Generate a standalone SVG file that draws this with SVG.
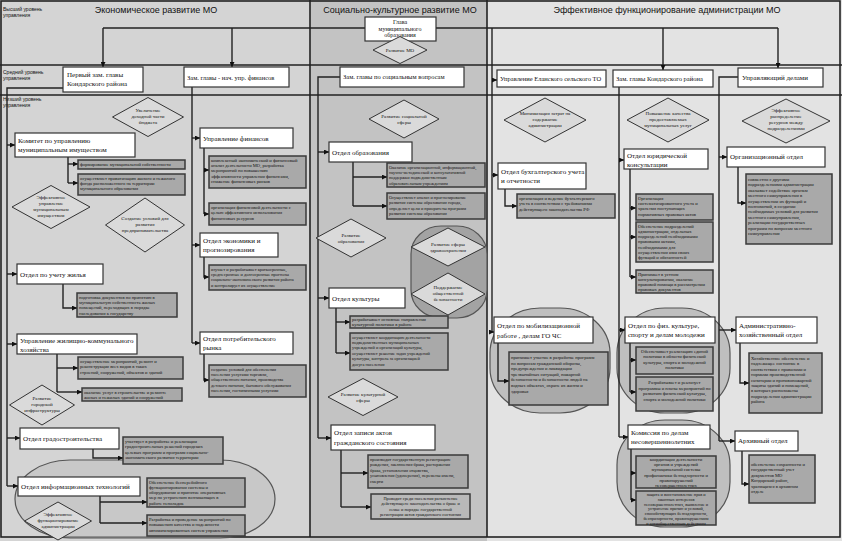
<svg xmlns="http://www.w3.org/2000/svg" width="842" height="541" viewBox="0 0 842 541">
<style>
.w{fill:#fff;stroke:#333;stroke-width:1.2}
.g{fill:#a9a9a9;stroke:#3a3a3a;stroke-width:1.5}
.d{fill:#dadada;stroke:#333;stroke-width:1}
.p{fill:#bfbfbf;stroke:#555;stroke-width:1.2}
.c{fill:none;stroke:#222;stroke-width:1.4}
.a{fill:none;stroke:#222;stroke-width:1.4;marker-end:url(#ar)}
.lv{stroke:#222;stroke-width:1.6}
.tw{font-family:"Liberation Serif",serif;font-size:7px;fill:#111}
.tg{font-family:"Liberation Serif",serif;font-size:4.6px;fill:#111}
.tgc{font-family:"Liberation Serif",serif;font-size:4.6px;fill:#111;text-anchor:middle}
.td{font-family:"Liberation Serif",serif;font-size:5px;fill:#111;text-anchor:middle}
.tt{font-family:"Liberation Sans",sans-serif;font-size:9px;fill:#111;text-anchor:middle}
.tl{font-family:"Liberation Sans",sans-serif;font-size:5px;fill:#111}
</style>
<defs>
<marker id="ar" viewBox="0 0 10 10" refX="10" refY="5" markerWidth="5" markerHeight="5" markerUnits="userSpaceOnUse" orient="auto"><path d="M0,0 L10,5 L0,10 z" fill="#111"/></marker>
</defs>

<g id="background">
<rect x="0" y="0" width="842" height="541" fill="#d4d4d4"/>
<rect x="310" y="0" width="177" height="541" fill="#c3c3c3"/>
<rect x="487" y="0" width="355" height="541" fill="#e3e3e3"/>
<rect x="1" y="1" width="839" height="536" fill="none" stroke="#222" stroke-width="1.6"/>
<line class="lv" x1="0" y1="65" x2="842" y2="65"/>
<line class="lv" x1="0" y1="95" x2="842" y2="95"/>
<line class="lv" x1="310" y1="0" x2="310" y2="537"/>
<line class="lv" x1="487" y1="0" x2="487" y2="537"/>
<text class="tt" x="156" y="13">Экономическое развитие МО</text>
<text class="tt" x="400" y="13">Социально-культурное развитие МО</text>
<text class="tt" x="667" y="13">Эффективное функционирование администрации МО</text>
<text class="tl" x="3" y="11">Высший уровень<tspan x="3" dy="6">управления</tspan></text>
<text class="tl" x="3" y="74">Средний уровень<tspan x="3" dy="6">управления</tspan></text>
<text class="tl" x="3" y="101">Низший уровень<tspan x="3" dy="6">управления</tspan></text>
</g>

<g id="pills">
<rect class="p" x="15" y="460" width="260" height="78" rx="55" ry="39" fill-opacity="0.6"/>
<rect class="p" x="411" y="226" width="76" height="92" rx="30" ry="28" style="fill:#a3a3a3"/>
<rect class="p" x="490" y="308" width="120" height="105" rx="50" ry="45"/>
<rect class="p" x="617" y="308" width="113" height="105" rx="48" ry="45"/>
<rect class="p" x="617" y="420" width="113" height="107" rx="48" ry="45"/>
</g>

<g id="connectors">
<path class="c" d="M365,28 H103"/><path class="a" d="M103,28 V67"/>
<path class="a" d="M232,28 V67"/>
<path class="c" d="M436,28 H778"/><path class="a" d="M778,28 V68"/>
<path class="a" d="M663,28 V70"/>
<path class="c" d="M492,28 V332"/>
<path class="a" d="M492,80 H497"/><path class="a" d="M492,175 H498"/><path class="a" d="M492,332 H494"/>

<path class="c" d="M63,88 H7 V486"/>
<path class="a" d="M7,145 H15"/><path class="a" d="M7,274 H17"/><path class="a" d="M7,344 H17"/><path class="a" d="M7,438 H20"/><path class="a" d="M7,486 H18"/>
<path class="c" d="M192,87 V343"/>
<path class="a" d="M192,138 H200"/><path class="a" d="M192,245 H200"/><path class="a" d="M192,343 H200"/>
<path class="c" d="M340,77 H318 V438"/>
<path class="a" d="M318,152 H329"/><path class="a" d="M318,298 H329"/><path class="a" d="M318,438 H331"/>
<path class="c" d="M619,87 V437"/>
<path class="a" d="M619,160 H624"/><path class="a" d="M619,330 H625"/><path class="a" d="M619,437 H628"/>
<path class="c" d="M738,77 H719 V441"/>
<path class="a" d="M719,157 H727"/><path class="a" d="M719,330 H736"/><path class="a" d="M719,441 H735"/>

<path class="c" d="M68,157 V183"/><path class="a" d="M68,164 H78"/><path class="a" d="M68,183 H78"/>
<path class="a" d="M63,284 V308 H77"/>
<path class="c" d="M57,354 V392"/><path class="a" d="M57,368 H78"/><path class="a" d="M57,392 H82"/>
<path class="a" d="M93,449 V458 H123"/>
<path class="c" d="M100,496 V523"/><path class="a" d="M100,502 H147"/><path class="a" d="M100,523 H147"/>
<path class="c" d="M204,148 V214"/><path class="a" d="M204,170 H209"/><path class="a" d="M204,214 H209"/>
<path class="a" d="M204,257 V277 H209"/>
<path class="a" d="M204,354 V380 H209"/>
<path class="c" d="M353,162 V206"/><path class="a" d="M353,177 H387"/><path class="a" d="M353,206 H387"/>
<path class="c" d="M336,308 V353"/><path class="a" d="M336,322 H350"/><path class="a" d="M336,353 H350"/>
<path class="c" d="M341,450 V507"/><path class="a" d="M341,473 H368"/><path class="a" d="M341,507 H371"/>
<path class="a" d="M505,189 V206 H517"/>
<path class="a" d="M498,343 V381 H509"/>
<path class="c" d="M630,169 V277"/><path class="a" d="M630,208 H636"/><path class="a" d="M630,237 H636"/><path class="a" d="M630,277 H636"/>
<path class="c" d="M630,343 V392"/><path class="a" d="M630,360 H636"/><path class="a" d="M630,392 H636"/>
<path class="c" d="M631,449 V500"/><path class="a" d="M631,473 H636"/><path class="a" d="M631,500 H636"/>
<path class="a" d="M738,167 V203 H746"/>
<path class="a" d="M740,343 V383 H749"/>
<path class="a" d="M742,451 V484 H749"/>
</g>

<g id="glava"><rect class="w" x="365" y="17" width="71" height="24"/><text class="tw" style="font-size:6px;text-anchor:middle" x="400" y="24">Глава<tspan x="400" dy="6.5">муниципального</tspan><tspan x="400" dy="6.5">образования</tspan></text></g>
<g id="d-razvitie-mo"><polygon class="d" points="373,50 400,36.5 427,50 400,63.5"/><text class="td" x="400" y="52">Развитие МО</text></g>

<g id="perv-zam"><rect class="w" x="63" y="67" width="80" height="25"/><text class="tw" x="67" y="77">Первый зам. главы<tspan x="67" dy="9">Кондарского района</tspan></text></g>
<g id="zam-fin"><rect class="w" x="184" y="67" width="105" height="20"/><text class="tw" style="font-size:6.5px" x="187" y="80">Зам. главы - нач. упр. финансов</text></g>
<g id="zam-soc"><rect class="w" x="340" y="67" width="124" height="20"/><text class="tw" style="font-size:6.5px" x="343" y="79">Зам. главы по социальным вопросам</text></g>
<g id="upr-elan"><rect class="w" x="497" y="70" width="109" height="17"/><text class="tw" style="font-size:6.5px" x="500" y="81">Управление Еланского сельского ТО</text></g>
<g id="zam-kond"><rect class="w" x="613" y="70" width="100" height="17"/><text class="tw" style="font-size:6.5px" x="616" y="81">Зам. главы Кондарского района</text></g>
<g id="upr-del"><rect class="w" x="738" y="68" width="85" height="19"/><text class="tw" x="742" y="80">Управляющий делами</text></g>

<g id="d-uvel"><polygon class="d" points="112.5,117 148,97.5 183.5,117 148,136.5"/><text class="td" x="148" y="112">Увеличение<tspan x="148" dy="6">доходной части</tspan><tspan x="148" dy="6">бюджета</tspan></text></g>
<g id="komitet"><rect class="w" x="15" y="133" width="120" height="24"/><text class="tw" x="18" y="143">Комитет по управлению<tspan x="18" dy="9">муниципальным имуществом</tspan></text></g>
<g id="g-kom1"><rect class="g" x="78" y="160" width="107" height="9"/><text class="tg" x="80" y="166.3">формирование муниципальной собственности</text></g>
<g id="g-kom2"><rect class="g" x="78" y="174" width="107" height="21"/><text class="tg" x="80" y="179.5">осуществляет приватизацию жилого и нежилого<tspan x="80" dy="5.4">фонда расположенного на территории</tspan><tspan x="80" dy="5.4">муниципального образования</tspan></text></g>
<g id="d-eff-upr"><polygon class="d" points="12,207 51,185.5 90,207 51,228.5"/><text class="td" x="51" y="199">Эффективное<tspan x="51" dy="6">управление</tspan><tspan x="51" dy="6">муниципальным</tspan><tspan x="51" dy="6">имуществом</tspan></text></g>
<g id="d-sozd"><polygon class="d" points="105.5,225 145,198 184.5,225 145,252"/><text class="td" x="145" y="220">Создание условий для<tspan x="145" dy="6">развития</tspan><tspan x="145" dy="6">предпринимательства</tspan></text></g>
<g id="uchet-zhilya"><rect class="w" x="17" y="264" width="86" height="20"/><text class="tw" x="20" y="277">Отдел по учету жилья</text></g>
<g id="g-zhil"><rect class="g" x="77" y="293" width="100" height="24"/><text class="tg" x="79" y="298.5">подготовка документов по принятию в<tspan x="79" dy="5.4">муниципальную собственность жилых</tspan><tspan x="79" dy="5.4">помещений, переходящих в порядке</tspan><tspan x="79" dy="5.4">наследования к государству</tspan></text></g>
<g id="uzhkh"><rect class="w" x="17" y="334" width="120" height="20"/><text class="tw" x="20" y="343">Управление жилищно-коммунального<tspan x="20" dy="8.5">хозяйства</tspan></text></g>
<g id="g-zhkh1"><rect class="g" x="78" y="357" width="105" height="22"/><text class="tg" x="80" y="363">осуществление мероприятий, ремонт и<tspan x="80" dy="5.4">реконструкция всех видов в таких</tspan><tspan x="80" dy="5.4">строений, сооружений, объектов и зданий</tspan></text></g>
<g id="g-zhkh2"><rect class="g" x="82" y="388" width="100" height="13"/><text class="tg" x="84" y="393.5">оказание услуг в строительстве и ремонте<tspan x="84" dy="5.2">жилых и нежилых зданий и сооружений</tspan></text></g>
<g id="d-gor-infra"><polygon class="d" points="9.5,405 42,385 74.5,405 42,425"/><text class="td" x="42" y="400">Развитие<tspan x="42" dy="6">городской</tspan><tspan x="42" dy="6">инфраструктуры</tspan></text></g>
<g id="gradostr"><rect class="w" x="20" y="428" width="99" height="21"/><text class="tw" x="23" y="441">Отдел градостроительства</text></g>
<g id="g-grad"><rect class="g" x="123" y="437" width="100" height="27"/><text class="tg" x="125" y="443">участвует в разработке и реализации<tspan x="125" dy="5.4">градостроительных решений городских</tspan><tspan x="125" dy="5.4">целевых программ и программ социально-</tspan><tspan x="125" dy="5.4">экономического развития территории</tspan></text></g>
<g id="it"><rect class="w" x="18" y="477" width="122" height="19"/><text class="tw" x="21" y="489">Отдел информационных технологий</text></g>
<g id="g-it1"><rect class="g" x="147" y="478" width="98" height="29"/><text class="tg" x="149" y="483.5">Обеспечение бесперебойного<tspan x="149" dy="5.3">функционирования системы и</tspan><tspan x="149" dy="5.3">оборудования и принятие оперативных</tspan><tspan x="149" dy="5.3">мер по устранению возникающих в</tspan><tspan x="149" dy="5.3">работе неполадок</tspan></text></g>
<g id="g-it2"><rect class="g" x="147" y="515" width="98" height="21"/><text class="tg" x="149" y="521">Разработка и проведение мероприятий по<tspan x="149" dy="5.4">повышению качества и надежности</tspan><tspan x="149" dy="5.4">автоматизированных систем управления</tspan></text></g>
<g id="d-eff-func"><polygon class="d" points="24.5,521 58,502 91.5,521 58,540"/><text class="td" x="58" y="516">Эффективное<tspan x="58" dy="6">функционирование</tspan><tspan x="58" dy="6">администрации</tspan></text></g>

<g id="upr-fin"><rect class="w" x="200" y="128" width="93" height="20"/><text class="tw" x="203" y="141">Управление финансов</text></g>
<g id="g-fin1"><rect class="g" x="209" y="156" width="97" height="32"/><text class="tg" x="211" y="161.5">комплексный экономический и финансовый<tspan x="211" dy="5.4">анализ деятельности МО, разработка</tspan><tspan x="211" dy="5.4">мероприятий по повышению</tspan><tspan x="211" dy="5.4">эффективности управления финансами,</tspan><tspan x="211" dy="5.4">снижение финансовых рисков</tspan></text></g>
<g id="g-fin2"><rect class="g" x="209" y="203" width="97" height="22"/><text class="tg" x="211" y="209">организация финансовой деятельности с<tspan x="211" dy="5.4">целью эффективного использования</tspan><tspan x="211" dy="5.4">финансовых ресурсов</tspan></text></g>
<g id="ekonom"><rect class="w" x="200" y="233" width="78" height="24"/><text class="tw" x="203" y="243">Отдел экономики и<tspan x="203" dy="9">прогнозирования</tspan></text></g>
<g id="g-ek"><rect class="g" x="209" y="265" width="97" height="25"/><text class="tg" style="font-size:4.4px" x="211" y="270.5">изучает и разрабатывает краткосрочные,<tspan x="211" dy="5.4">среднесрочные и долгосрочные прогнозы</tspan><tspan x="211" dy="5.4">социально-экономического развития района</tspan><tspan x="211" dy="5.4">и контролирует их осуществление</tspan></text></g>
<g id="potreb"><rect class="w" x="200" y="332" width="93" height="22"/><text class="tw" x="203" y="341">Отдел потребительского<tspan x="203" dy="9">рынка</tspan></text></g>
<g id="g-potr"><rect class="g" x="209" y="365" width="97" height="32"/><text class="tg" style="font-size:4.4px" x="211" y="370.5">создание условий для обеспечения<tspan x="211" dy="5.4">населения услугами торговли,</tspan><tspan x="211" dy="5.4">общественного питания, производства</tspan><tspan x="211" dy="5.4">детского питания, бытового обслуживания</tspan><tspan x="211" dy="5.4">населения, гостиничными услугами</tspan></text></g>

<g id="d-soc"><polygon class="d" points="369,119 404,100 439,119 404,138"/><text class="td" x="404" y="118">Развитие социальной<tspan x="404" dy="6">сферы</tspan></text></g>
<g id="obraz"><rect class="w" x="329" y="142" width="83" height="20"/><text class="tw" x="332" y="155">Отдел образования</text></g>
<g id="g-obr1"><rect class="g" x="387" y="163" width="98" height="24"/><text class="tg" style="font-size:4.4px" x="389" y="168.5">Оказание организационной, информационной,<tspan x="389" dy="5.4">научно-методической и консультативной</tspan><tspan x="389" dy="5.4">поддержки подведомственным</tspan><tspan x="389" dy="5.4">образовательным учреждениям</tspan></text></g>
<g id="g-obr2"><rect class="g" x="387" y="193" width="98" height="26"/><text class="tg" style="font-size:4.4px" x="389" y="199">Осуществляет анализ и прогнозирование<tspan x="389" dy="5.4">развития системы образования города,</tspan><tspan x="389" dy="5.4">определяет цели и приоритеты программ</tspan><tspan x="389" dy="5.4">развития системы образования</tspan></text></g>
<g id="d-obr"><polygon class="d" points="316,238 351,219 386,238 351,257"/><text class="td" x="351" y="237">Развитие<tspan x="351" dy="6">образования</tspan></text></g>
<g id="d-zdrav"><polygon class="d" points="411,247 448,228 485,247 448,266"/><text class="td" x="448" y="246">Развитие сферы<tspan x="448" dy="6">здравоохранения</tspan></text></g>
<g id="d-bezop"><polygon class="d" points="411,294 448,273 485,294 448,315"/><text class="td" x="448" y="289">Поддержание<tspan x="448" dy="6">общественной</tspan><tspan x="448" dy="6">безопасности</tspan></text></g>
<g id="kultura"><rect class="w" x="329" y="288" width="76" height="20"/><text class="tw" x="332" y="301">Отдел культуры</text></g>
<g id="g-kul1"><rect class="g" x="350" y="316" width="98" height="12"/><text class="tg" x="352" y="321">разрабатывает основные направления<tspan x="352" dy="5">культурной политики в районе</tspan></text></g>
<g id="g-kul2"><rect class="g" x="350" y="333" width="98" height="37"/><text class="tg" style="font-size:4.4px" x="352" y="338.5">осуществляет координацию деятельности<tspan x="352" dy="5.4">подведомственных муниципальных</tspan><tspan x="352" dy="5.4">учреждений и организаций культуры,</tspan><tspan x="352" dy="5.4">осуществляет решение задач учреждений</tspan><tspan x="352" dy="5.4">культуры, контроль за организацией</tspan><tspan x="352" dy="5.4">досуга населения</tspan></text></g>
<g id="d-kul"><polygon class="d" points="328,397 363,378.5 398,397 363,415.5"/><text class="td" x="363" y="396">Развитие культурной<tspan x="363" dy="6">сферы</tspan></text></g>
<g id="zags"><rect class="w" x="331" y="425" width="104" height="25"/><text class="tw" x="334" y="435">Отдел записи актов<tspan x="334" dy="9.5">гражданского состояния</tspan></text></g>
<g id="g-zags1"><rect class="g" x="368" y="455" width="100" height="33"/><text class="tg" style="font-size:4.4px" x="370" y="461">производит государственную регистрацию<tspan x="370" dy="5.4">рождения, заключения брака, расторжения</tspan><tspan x="370" dy="5.4">брака, установления отцовства,</tspan><tspan x="370" dy="5.4">усыновления (удочерения), перемены имени,</tspan><tspan x="370" dy="5.4">смерти</tspan></text></g>
<g id="g-zags2"><rect class="g" x="371" y="494" width="99" height="25" style="fill:#b9b9b9"/><text class="tgc" style="font-size:4.4px" x="420.5" y="500">Проводит среди населения разъяснение<tspan x="420.5" dy="5.4">действующего законодательства о браке и</tspan><tspan x="420.5" dy="5.4">семье и порядке государственной</tspan><tspan x="420.5" dy="5.4">регистрации актов гражданского состояния</tspan></text></g>

<g id="d-minim"><polygon class="d" points="504,120 545,98 586,120 545,142"/><text class="td" x="545" y="115">Минимизация затрат на<tspan x="545" dy="6">содержание</tspan><tspan x="545" dy="6">администрации</tspan></text></g>
<g id="d-kach"><polygon class="d" points="627,120 668,98 709,120 668,142"/><text class="td" x="668" y="115">Повышение качества<tspan x="668" dy="6">предоставляемых</tspan><tspan x="668" dy="6">муниципальных услуг</tspan></text></g>
<g id="d-raspr"><polygon class="d" points="742,121 786,99 830,121 786,143"/><text class="td" x="786" y="112">Эффективное<tspan x="786" dy="6">распределение</tspan><tspan x="786" dy="6">ресурсов между</tspan><tspan x="786" dy="6">подразделениями</tspan></text></g>
<g id="buh"><rect class="w" x="498" y="163" width="88" height="26"/><text class="tw" x="501" y="174">Отдел бухгалтерского учета<tspan x="501" dy="9">и отчетности</tspan></text></g>
<g id="g-buh"><rect class="g" x="517" y="194" width="98" height="24"/><text class="tg" x="519" y="200">организация и ведение бухгалтерского<tspan x="519" dy="5.4">учета в соответствии с требованиями</tspan><tspan x="519" dy="5.4">действующего законодательства РФ</tspan></text></g>
<g id="mob"><rect class="w" x="494" y="317" width="99" height="26"/><text class="tw" x="497" y="328">Отдел по мобилизационной<tspan x="497" dy="9.5">работе , делам ГО ЧС</tspan></text></g>
<g id="g-mob"><rect class="g" x="509" y="352" width="99" height="53"/><text class="tg" x="511" y="359">принимает участие в разработке программ<tspan x="511" dy="5.6">по вопросам гражданской обороны,</tspan><tspan x="511" dy="5.6">предупреждения и ликвидации</tspan><tspan x="511" dy="5.6">чрезвычайных ситуаций, пожарной</tspan><tspan x="511" dy="5.6">безопасности и безопасности людей на</tspan><tspan x="511" dy="5.6">водных объектах, охране их жизни и</tspan><tspan x="511" dy="5.6">здоровья</tspan></text></g>
<g id="yur"><rect class="w" x="624" y="149" width="84" height="20"/><text class="tw" x="627" y="158">Отдел юридической<tspan x="627" dy="8.5">консультации</tspan></text></g>
<g id="g-yur1"><rect class="g" x="636" y="194" width="77" height="26"/><text class="tg" x="638" y="199.5">Организация<tspan x="638" dy="5.4">систематизированного учета и</tspan><tspan x="638" dy="5.4">хранения поступающих</tspan><tspan x="638" dy="5.4">нормативных правовых актов</tspan></text></g>
<g id="g-yur2"><rect class="g" x="636" y="222" width="77" height="40"/><text class="tg" x="638" y="227.5">Обеспечение подразделений<tspan x="638" dy="5.3">администрации, отдельных</tspan><tspan x="638" dy="5.3">подразделений необходимыми</tspan><tspan x="638" dy="5.3">правовыми актами,</tspan><tspan x="638" dy="5.3">необходимыми для</tspan><tspan x="638" dy="5.3">осуществления ими своих</tspan><tspan x="638" dy="5.3">функций и обязанностей</tspan></text></g>
<g id="g-yur3"><rect class="g" x="636" y="270" width="77" height="23"/><text class="tg" x="638" y="275.5">Принимает в устном<tspan x="638" dy="5.3">консультировании, оказание</tspan><tspan x="638" dy="5.3">правовой помощи в рассмотрении</tspan><tspan x="638" dy="5.3">правовых документов</tspan></text></g>
<g id="fizkult"><rect class="w" x="625" y="317" width="90" height="26"/><text class="tw" x="628" y="328">Отдел по физ. культуре,<tspan x="628" dy="9">спорту и делам молодежи</tspan></text></g>
<g id="g-fiz1"><rect class="g" x="636" y="347" width="77" height="27"/><text class="tgc" x="674.5" y="353">Обеспечивает реализацию единой<tspan x="674.5" dy="5.4">политики в области физической</tspan><tspan x="674.5" dy="5.4">культуры, спорта и молодежной</tspan><tspan x="674.5" dy="5.4">политики</tspan></text></g>
<g id="g-fiz2"><rect class="g" x="636" y="377" width="77" height="34"/><text class="tgc" x="674.5" y="384">Разрабатывает и реализует<tspan x="674.5" dy="5.6">программы и планы мероприятий по</tspan><tspan x="674.5" dy="5.6">развитию физической культуры,</tspan><tspan x="674.5" dy="5.6">спорта и молодежной политики</tspan><tspan x="674.5" dy="5.6"> </tspan></text></g>
<g id="komissiya"><rect class="w" x="628" y="425" width="82" height="24"/><text class="tw" x="631" y="435">Комиссия по делам<tspan x="631" dy="9">несовершеннолетних</tspan></text></g>
<g id="g-kom-n1"><rect class="g" x="636" y="456" width="80" height="32"/><text class="tgc" x="676" y="461">координация деятельности<tspan x="676" dy="5.2">органов и учреждений</tspan><tspan x="676" dy="5.2">муниципальной системы</tspan><tspan x="676" dy="5.2">профилактики безнадзорности и</tspan><tspan x="676" dy="5.2">правонарушений</tspan><tspan x="676" dy="5.2">несовершеннолетних</tspan></text></g>
<g id="g-kom-n2"><rect class="g" x="636" y="491" width="80" height="34"/><text class="tgc" style="font-size:4.3px" x="676" y="496">защита и восстановление прав и<tspan x="676" dy="4.8">законных интересов</tspan><tspan x="676" dy="4.8">несовершеннолетних, выявление и</tspan><tspan x="676" dy="4.8">устранение причин и условий,</tspan><tspan x="676" dy="4.8">способствующих безнадзорности,</tspan><tspan x="676" dy="4.8">беспризорности, правонарушениям</tspan><tspan x="676" dy="4.8">и антиобщественным действиям</tspan></text></g>
<g id="org"><rect class="w" x="727" y="147" width="98" height="20"/><text class="tw" x="730" y="159">Организационный отдел</text></g>
<g id="g-org"><rect class="g" x="746" y="174" width="86" height="70"/><text class="tg" x="748" y="181">совместно с другими<tspan x="748" dy="5.4">подразделениями администрации</tspan><tspan x="748" dy="5.4">оказывает содействие органам</tspan><tspan x="748" dy="5.4">местного самоуправления в</tspan><tspan x="748" dy="5.4">осуществлении их функций и</tspan><tspan x="748" dy="5.4">полномочий, в создании</tspan><tspan x="748" dy="5.4">необходимых условий для развития</tspan><tspan x="748" dy="5.4">местного самоуправления,</tspan><tspan x="748" dy="5.4">реализации государственных</tspan><tspan x="748" dy="5.4">программ по вопросам местного</tspan><tspan x="748" dy="5.4">самоуправления</tspan></text></g>
<g id="aho"><rect class="w" x="736" y="317" width="81" height="26"/><text class="tw" x="739" y="328">Административно-<tspan x="739" dy="9">хозяйственный отдел</tspan></text></g>
<g id="g-aho"><rect class="g" x="749" y="353" width="73" height="60"/><text class="tg" x="751" y="360">Хозяйственное обеспечение и<tspan x="751" dy="5.4">надлежащее состояние в</tspan><tspan x="751" dy="5.4">соответствии с правилами и</tspan><tspan x="751" dy="5.4">нормами производственной</tspan><tspan x="751" dy="5.4">санитарии и противопожарной</tspan><tspan x="751" dy="5.4">защиты зданий и помещений,</tspan><tspan x="751" dy="5.4">в которых расположены</tspan><tspan x="751" dy="5.4">подразделения администрации</tspan><tspan x="751" dy="5.4">района</tspan></text></g>
<g id="arhiv"><rect class="w" x="735" y="431" width="63" height="20"/><text class="tw" x="738" y="443">Архивный отдел</text></g>
<g id="g-arh"><rect class="g" x="749" y="455" width="66" height="48"/><text class="tg" x="751" y="466">обеспечение сохранности и<tspan x="751" dy="5.4">государственный учет</tspan><tspan x="751" dy="5.4">документов МО</tspan><tspan x="751" dy="5.4">Кондарский район,</tspan><tspan x="751" dy="5.4">хранящихся в архивном</tspan><tspan x="751" dy="5.4">отделе</tspan></text></g>
</svg>
